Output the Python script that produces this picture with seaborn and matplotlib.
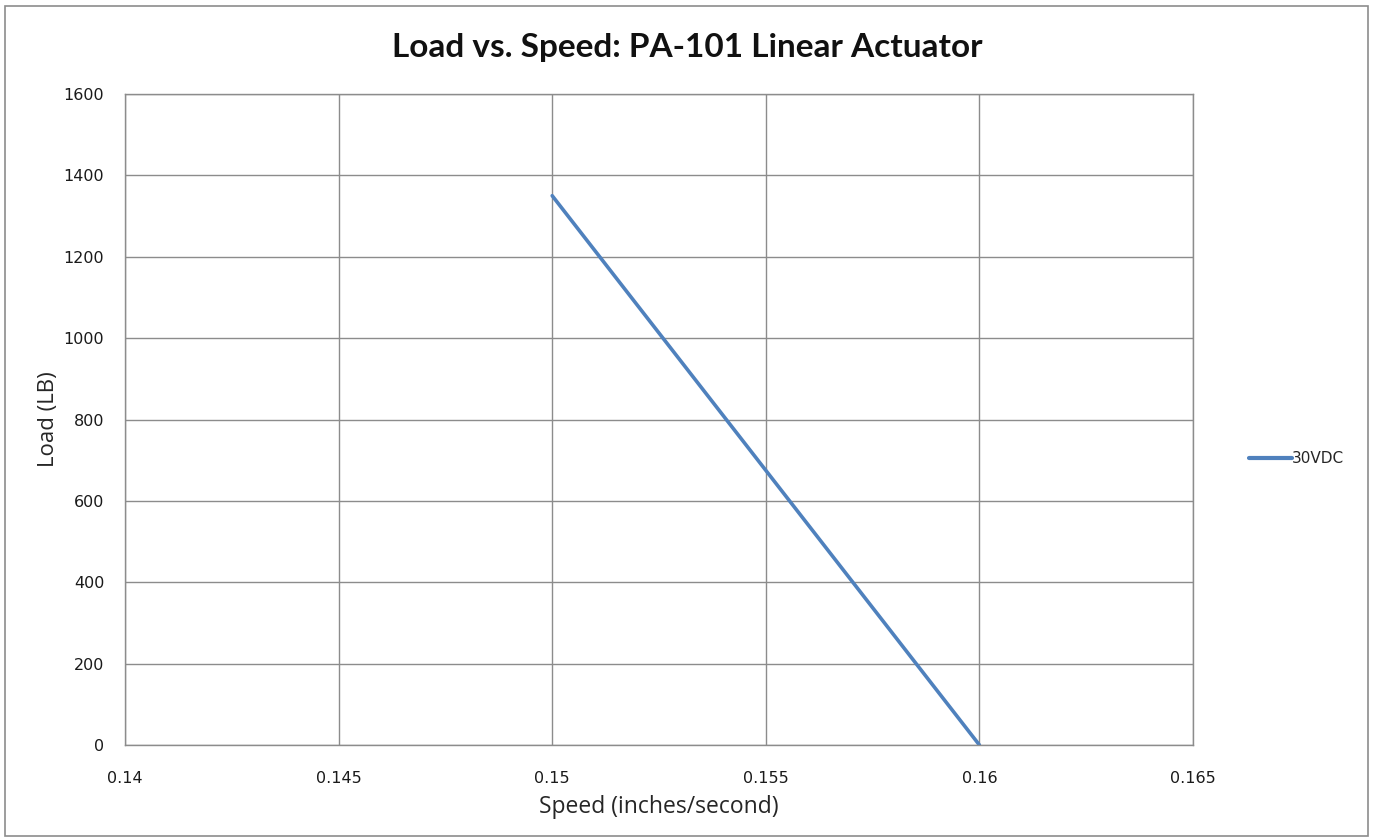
import matplotlib
matplotlib.use('Agg')
import matplotlib.pyplot as plt
import pandas as pd
import seaborn as sns
from matplotlib.patches import Rectangle

# data
speed = [0.15, 0.16]
load = [1350, 0]
series = ['30VDC', '30VDC']

x_ticks = [0.14, 0.145, 0.15, 0.155, 0.16, 0.165]
x_tick_labels = ['0.14', '0.145', '0.15', '0.155', '0.16', '0.165']
y_ticks = [0, 200, 400, 600, 800, 1000, 1200, 1400, 1600]

df = pd.DataFrame({'speed': speed, 'load': load, 'series': series})

sns.set_style('white')
plt.rcParams['font.family'] = ['DejaVu Sans']

fig = plt.figure(figsize=(13.74, 8.4), dpi=100)
ax = fig.add_axes([125 / 1374, 95 / 840, 1068 / 1374, 651 / 840])

sns.lineplot(data=df, x='speed', y='load', hue='series', palette=['#4F81BD'],
             linewidth=2.6, ax=ax, legend=True)

ax.set_xlim(0.14, 0.165)
ax.set_ylim(0, 1600)
ax.set_xticks(x_ticks)
ax.set_xticklabels(x_tick_labels)
ax.set_yticks(y_ticks)
ax.grid(True, color='#8c8c8c', linewidth=1)
ax.set_axisbelow(True)
for s in ax.spines.values():
    s.set_color('#8c8c8c')
    s.set_linewidth(1)
ax.tick_params(axis='both', length=0, labelsize=11.5, colors='#1a1a1a')
ax.tick_params(axis='x', pad=19)
ax.tick_params(axis='y', pad=15)

ax.set_xlabel('Speed (inches/second)', fontsize=16.5, family='Open Sans', labelpad=6)
ax.set_ylabel('Load (LB)', fontsize=16, family='Open Sans', labelpad=3)
fig.text(0.5, 1 - 47 / 840, 'Load vs. Speed: PA-101 Linear Actuator', fontsize=24,
         family='Lato', fontweight='bold', ha='center', va='center', color='#111111')

leg = ax.legend(loc='center left', bbox_to_anchor=(1.04, 0.44), frameon=False,
                fontsize=11, handlelength=2.8, handletextpad=0.0)
for h in leg.get_lines():
    h.set_linewidth(3)

# outer chart border
fig.patches.append(Rectangle((5 / 1374, 4 / 840), 1363 / 1374, 830 / 840,
                             transform=fig.transFigure, fill=False,
                             edgecolor='#8c8c8c', linewidth=1.2))

fig.savefig('out.png', dpi=100)
